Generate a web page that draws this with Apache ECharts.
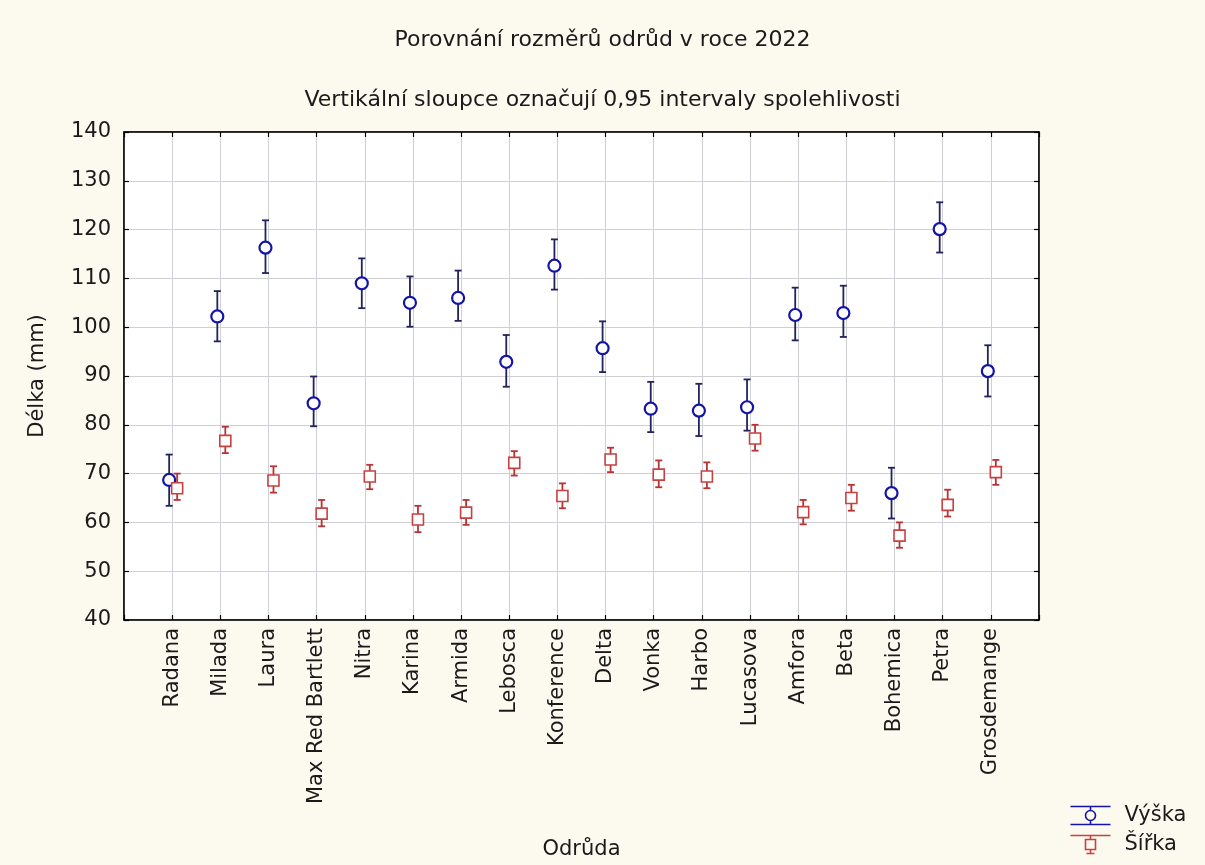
<!DOCTYPE html>
<html>
<head>
<meta charset="utf-8">
<script src="https://cdn.jsdelivr.net/npm/echarts@6/dist/echarts.min.js"></script>
<style>
  html, body { margin: 0; padding: 0; background: #fcf9ef; }
  #chart { width: 1205px; height: 865px; }
</style>
</head>
<body>
<div id="chart"></div>
<script>
// Varieties (odrůdy) on the x axis
const categories = ['Radana', 'Milada', 'Laura', 'Max Red Bartlett', 'Nitra', 'Karina', 'Armida',
  'Lebosca', 'Konference', 'Delta', 'Vonka', 'Harbo', 'Lucasova', 'Amfora', 'Beta', 'Bohemica',
  'Petra', 'Grosdemange'];

// Height (Výška): mean and 0.95 confidence limits, mm
const vyskaMean = [68.7, 102.2, 116.3, 84.4, 109.0, 105.0, 106.0, 92.9, 112.6, 95.7, 83.3, 82.9, 83.6, 102.5, 102.9, 66.0, 120.1, 91.0];
const vyskaLow  = [63.4, 97.1, 111.1, 79.7, 103.9, 100.1, 101.3, 87.8, 107.7, 90.8, 78.5, 77.7, 78.8, 97.3, 98.0, 60.8, 115.3, 85.8];
const vyskaHigh = [73.9, 107.4, 121.9, 89.9, 114.1, 110.4, 111.6, 98.4, 118.0, 101.2, 88.8, 88.4, 89.3, 108.1, 108.5, 71.2, 125.6, 96.3];

// Width (Šířka): mean and 0.95 confidence limits, mm
const sirkaMean = [67.0, 76.7, 68.6, 61.8, 69.4, 60.6, 62.0, 72.2, 65.4, 72.9, 69.8, 69.4, 77.2, 62.1, 65.0, 57.3, 63.6, 70.3];
const sirkaLow  = [64.6, 74.2, 66.1, 59.2, 66.8, 58.0, 59.5, 69.6, 62.9, 70.3, 67.2, 67.0, 74.7, 59.6, 62.4, 54.8, 61.2, 67.7];
const sirkaHigh = [70.0, 79.6, 71.5, 64.6, 71.8, 63.4, 64.6, 74.6, 68.0, 75.3, 72.7, 72.3, 80.0, 64.6, 67.7, 60.0, 66.7, 72.8];

// Y axis range
const yMin = 40, yMax = 140, yStep = 10;

const FONT = 'DejaVu Sans';
const BLUE = '#1414a8', BLUE_BAR = '#22225e';
const RED = '#c84040', RED_BAR = '#b83434';

// one empty slot on each side of the varieties
const xSlots = [''].concat(categories, ['']);

const meanData = (arr) => arr.map((v, i) => [i + 1, v]);
const barData = (lo, hi) => lo.map((v, i) => [i + 1, v, hi[i]]);

// vertical whisker with caps, shifted sideways by dx pixels
function whisker(color, dx) {
  return function (params, api) {
    const lo = api.coord([api.value(0), api.value(1)]);
    const hi = api.coord([api.value(0), api.value(2)]);
    const x = lo[0] + dx, cap = 3.5;
    const style = { stroke: color, lineWidth: 1.8, fill: null };
    return {
      type: 'group',
      children: [
        { type: 'line', shape: { x1: x, y1: lo[1], x2: x, y2: hi[1] }, style },
        { type: 'line', shape: { x1: x - cap, y1: lo[1], x2: x + cap, y2: lo[1] }, style },
        { type: 'line', shape: { x1: x - cap, y1: hi[1], x2: x + cap, y2: hi[1] }, style }
      ]
    };
  };
}

const iconVyska = 'path://M0,1 L40,1 M0,19 L40,19 M20,1 L20,5 M20,15 L20,19 M20,5 A5,5 0 1,1 20,15 A5,5 0 1,1 20,5';
const iconSirka = 'path://M0,1 L40,1 M16,19 L24,19 M20,1 L20,5 M20,15 L20,19 M15,5 L25,5 L25,15 L15,15 Z';

const chart = echarts.init(document.getElementById('chart'), null, { renderer: 'canvas' });

const catAxisBase = {
  type: 'category',
  data: xSlots,
  boundaryGap: false,
  axisLine: { lineStyle: { color: '#000', width: 1.5 } },
  axisTick: { inside: true, length: 5, interval: 0, lineStyle: { color: '#000', width: 1.2 } }
};
const valAxisBase = {
  type: 'value',
  min: yMin, max: yMax, interval: yStep,
  axisLine: { show: true, lineStyle: { color: '#000', width: 1.5 } },
  axisTick: { show: true, inside: true, length: 5, lineStyle: { color: '#000', width: 1.2 } }
};

chart.setOption({
  backgroundColor: '#fcf9ef',
  animation: false,
  title: [
    { text: 'Porovnání rozměrů odrůd v roce 2022', left: 'center', top: 24,
      textStyle: { fontFamily: FONT, fontSize: 22, fontWeight: 'normal', color: '#1a1a1a' } },
    { text: 'Vertikální sloupce označují 0,95 intervaly spolehlivosti', left: 'center', top: 84,
      textStyle: { fontFamily: FONT, fontSize: 22, fontWeight: 'normal', color: '#1a1a1a' } }
  ],
  grid: { left: 124, top: 132, right: 166, bottom: 244, show: true, backgroundColor: '#ffffff',
    borderColor: '#000', borderWidth: 1 },
  legend: {
    orient: 'vertical', left: 1068, top: 804, padding: 0,
    itemWidth: 40, itemHeight: 20, itemGap: 6,
    textStyle: { fontFamily: FONT, fontSize: 21, lineHeight: 22, color: '#1a1a1a', padding: [0, 0, 0, 9] },
    data: [
      { name: 'Výška', icon: iconVyska, itemStyle: { color: 'none', borderColor: BLUE, borderWidth: 1.6 } },
      { name: 'Šířka', icon: iconSirka, itemStyle: { color: 'none', borderColor: RED, borderWidth: 1.6 } }
    ]
  },
  xAxis: [
    Object.assign({}, catAxisBase, {
      position: 'bottom',
      name: 'Odrůda', nameLocation: 'middle', nameGap: 219,
      nameTextStyle: { fontFamily: FONT, fontSize: 21, color: '#1a1a1a' },
      axisLabel: { interval: 0, rotate: 90, margin: 8, fontFamily: FONT, fontSize: 21, color: '#1a1a1a' },
      splitLine: { show: true, interval: 0, lineStyle: { color: '#cfcfd6', width: 1 } }
    }),
    Object.assign({}, catAxisBase, {
      position: 'top',
      axisLabel: { show: false },
      splitLine: { show: false }
    })
  ],
  yAxis: [
    Object.assign({}, valAxisBase, {
      position: 'left',
      name: 'Délka (mm)', nameLocation: 'middle', nameGap: 76,
      nameTextStyle: { fontFamily: FONT, fontSize: 21, color: '#1a1a1a' },
      axisLabel: { margin: 13, fontFamily: FONT, fontSize: 21, color: '#1a1a1a' },
      splitLine: { show: true, lineStyle: { color: '#cfcfd6', width: 1 } }
    }),
    Object.assign({}, valAxisBase, {
      position: 'right',
      axisLabel: { show: false },
      splitLine: { show: false }
    })
  ],
  series: [
    {
      name: 'Výška', type: 'custom', renderItem: whisker(BLUE_BAR, -3),
      data: barData(vyskaLow, vyskaHigh), encode: { x: 0, y: [1, 2] }, z: 2
    },
    {
      name: 'Šířka', type: 'custom', renderItem: whisker(RED_BAR, 5),
      data: barData(sirkaLow, sirkaHigh), encode: { x: 0, y: [1, 2] }, z: 2
    },
    {
      name: 'Výška', type: 'scatter', data: meanData(vyskaMean),
      symbol: 'circle', symbolSize: 12, symbolOffset: [-3, 0],
      itemStyle: { color: '#ffffff', borderColor: BLUE, borderWidth: 2.2, opacity: 1 }, z: 3
    },
    {
      name: 'Šířka', type: 'scatter', data: meanData(sirkaMean),
      symbol: 'rect', symbolSize: 11, symbolOffset: [5, 0],
      itemStyle: { color: '#ffffff', borderColor: RED, borderWidth: 1.6, opacity: 1 }, z: 3
    }
  ]
});
</script>
</body>
</html>
